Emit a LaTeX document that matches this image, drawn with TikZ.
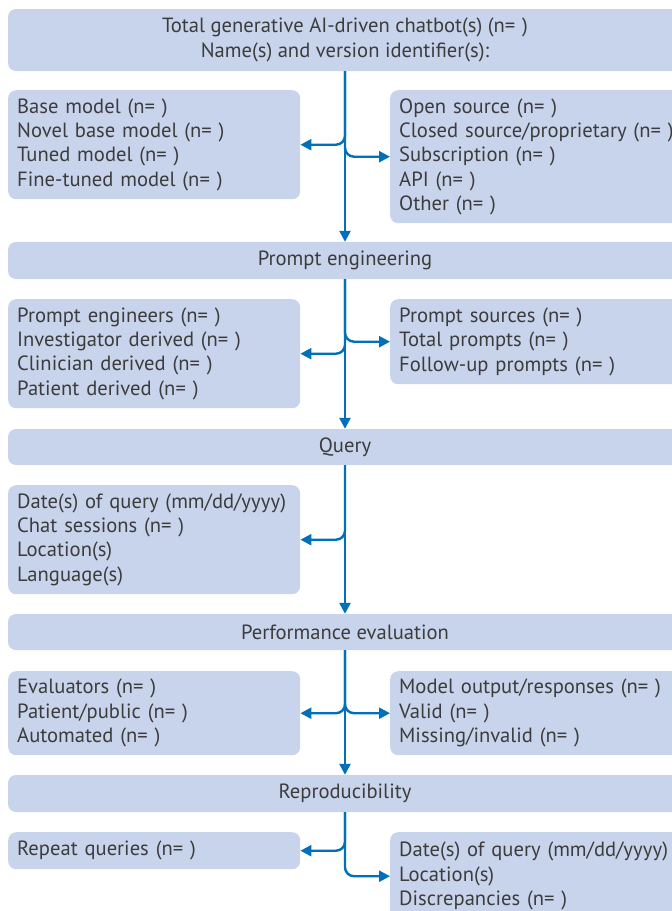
\documentclass[tikz,border=0pt]{standalone}
\usepackage{fontspec}
\setmainfont{PT Sans}
\usetikzlibrary{arrows.meta}

\definecolor{boxblue}{RGB}{200,212,236}
\definecolor{flowblue}{RGB}{0,112,186}
\definecolor{inkgrey}{RGB}{60,60,60}

\newcommand{\nblank}{(n=\,\,)}

\tikzset{
  bar/.style={fill=boxblue, rounded corners=8pt, minimum width=674pt, align=center, text=inkgrey, inner sep=0pt},
  sidebox/.style={fill=boxblue, rounded corners=8pt, anchor=north west, align=left, inner xsep=9pt, inner ysep=0pt, text=inkgrey},
  leftbox/.style={sidebox, text width=274pt},
  rightbox/.style={sidebox, text width=320pt},
  flow/.style={draw=flowblue, line width=2.4pt, -{Triangle[length=11pt,width=11pt]}},
  branch/.style={flow, rounded corners=9pt},
}

\begin{document}
\begin{tikzpicture}[x=1pt, y=-1pt, font=\fontsize{20.6}{24.3}\selectfont]
\useasboundingbox (0,0) rectangle (672,911);
\clip (0,0) rectangle (672,911);

% chatbots
\node[bar, minimum height=62pt] (total) at (345,40) {Total generative AI-driven chatbot(s) \nblank\\Name(s) and version identifier(s):};
\node[leftbox, minimum height=109pt] (model) at (8,90) {Base model \nblank\\Novel base model \nblank\\Tuned model \nblank\\Fine-tuned model \nblank};
\node[rightbox, minimum height=133pt] (source) at (390,90) {Open source \nblank\\Closed source/proprietary \nblank\\Subscription \nblank\\API \nblank\\Other \nblank};

% prompt engineering
\node[bar, minimum height=37pt] (prompt) at (345,260.5) {Prompt engineering};
\node[leftbox, minimum height=109pt] (engineers) at (8,299) {Prompt engineers \nblank\\Investigator derived \nblank\\Clinician derived \nblank\\Patient derived \nblank};
\node[rightbox, minimum height=85pt] (prompts) at (390,299) {Prompt sources \nblank\\Total prompts \nblank\\Follow-up prompts \nblank};

% query
\node[bar, minimum height=36pt] (query) at (345,447) {Query};
\node[leftbox, minimum height=109pt] (session) at (8,485) {Date(s) of query (mm/dd/yyyy)\\Chat sessions \nblank\\Location(s)\\Language(s)};

% performance evaluation
\node[bar, minimum height=36pt] (perf) at (345,632) {Performance evaluation};
\node[leftbox, minimum height=84pt] (evaluators) at (8,671) {Evaluators \nblank\\Patient/public \nblank\\Automated \nblank};
\node[rightbox, minimum height=84pt] (outputs) at (390,671) {Model output/responses \nblank\\Valid \nblank\\Missing/invalid \nblank};

% reproducibility
\node[bar, minimum height=37pt] (repro) at (345,793.5) {Reproducibility};
\node[leftbox, minimum height=37pt] (repeat) at (8,832) {Repeat queries \nblank};
\node[rightbox, minimum height=88pt] (discrep) at (390,832) {Date(s) of query (mm/dd/yyyy)\\Location(s)\\Discrepancies \nblank};

% spine
\draw[flow] (total) -- (prompt);
\draw[flow] (prompt) -- (query);
\draw[flow] (query) -- (perf);
\draw[flow] (perf) -- (repro);

% side branches
\draw[branch] (total) |- (model);
\draw[branch] (total) |- (source);
\draw[branch] (prompt) |- (engineers);
\draw[branch] (prompt) |- (prompts);
\draw[branch] (query) |- (session);
\draw[branch] (perf) |- (evaluators);
\draw[branch] (perf) |- (outputs);
\draw[branch] (repro) |- (repeat);
\draw[branch] (repro) |- (discrep);
\end{tikzpicture}
\end{document}
